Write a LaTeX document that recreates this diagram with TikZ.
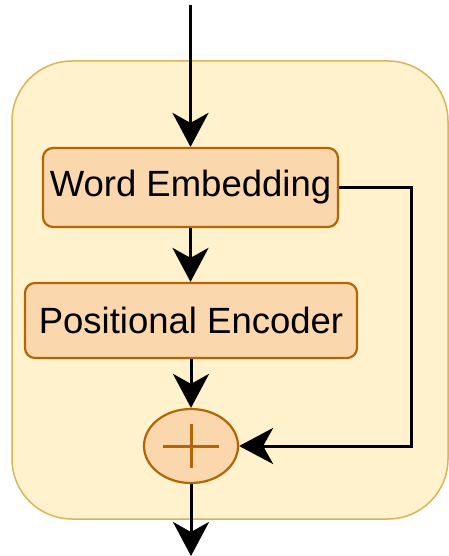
\documentclass[tikz,border=0pt]{standalone}
\usepackage{fontspec}
\setmainfont{Liberation Sans}
\usetikzlibrary{arrows.meta,shapes.geometric}
\definecolor{panelfill}{HTML}{FFF2CC}
\definecolor{paneldraw}{HTML}{D6B656}
\definecolor{blockfill}{HTML}{FAD7AC}
\definecolor{blockdraw}{HTML}{B46504}
\tikzset{
  panel/.style={draw=paneldraw, fill=panelfill, line width=1.5pt, rounded corners=60pt},
  block/.style={draw=blockdraw, fill=blockfill, line width=2.2pt, rounded corners=10pt,
    inner sep=0pt, font=\fontsize{36.5}{40}\selectfont},
  adder/.style={ellipse, draw=blockdraw, fill=blockfill, line width=2.2pt,
    minimum width=94pt, minimum height=74pt, inner sep=0pt},
  flow/.style={line width=3pt, -{Stealth[length=34pt, width=36pt, inset=10pt]}},
}
\begin{document}
\begin{tikzpicture}[x=1pt, y=-1pt]
  \useasboundingbox (0,0) rectangle (449,556);
  % container
  \draw[panel] (12,61) rectangle (448,519);
  % blocks
  \node[block, minimum width=295pt, minimum height=79pt] (we) at (190.5,187.5) {Word Embedding};
  \node[block, minimum width=332pt, minimum height=75pt] (pe) at (191,320.5) {Positional Encoder};
  \node[adder] (add) at (191,446) {};
  \draw[blockdraw, line width=3pt] ([xshift=-28pt]add.center) -- ([xshift=28pt]add.center)
    ([yshift=-22pt]add.center) -- ([yshift=22pt]add.center);
  % connectors
  \coordinate (in) at (190.5,5);
  \coordinate (out) at (191,556);
  \coordinate (turn) at (411,0);
  \draw[flow] (in) -- (we.north);
  \draw[flow] (we.south) -- (pe.north -| we.south);
  \draw[flow] (pe.south -| add.north) -- (add.north);
  \draw[flow] (add.south) -- (out);
  \draw[flow] (we.east) -- (we.east -| turn) -- (add.east -| turn) -- (add.east);
\end{tikzpicture}
\end{document}
